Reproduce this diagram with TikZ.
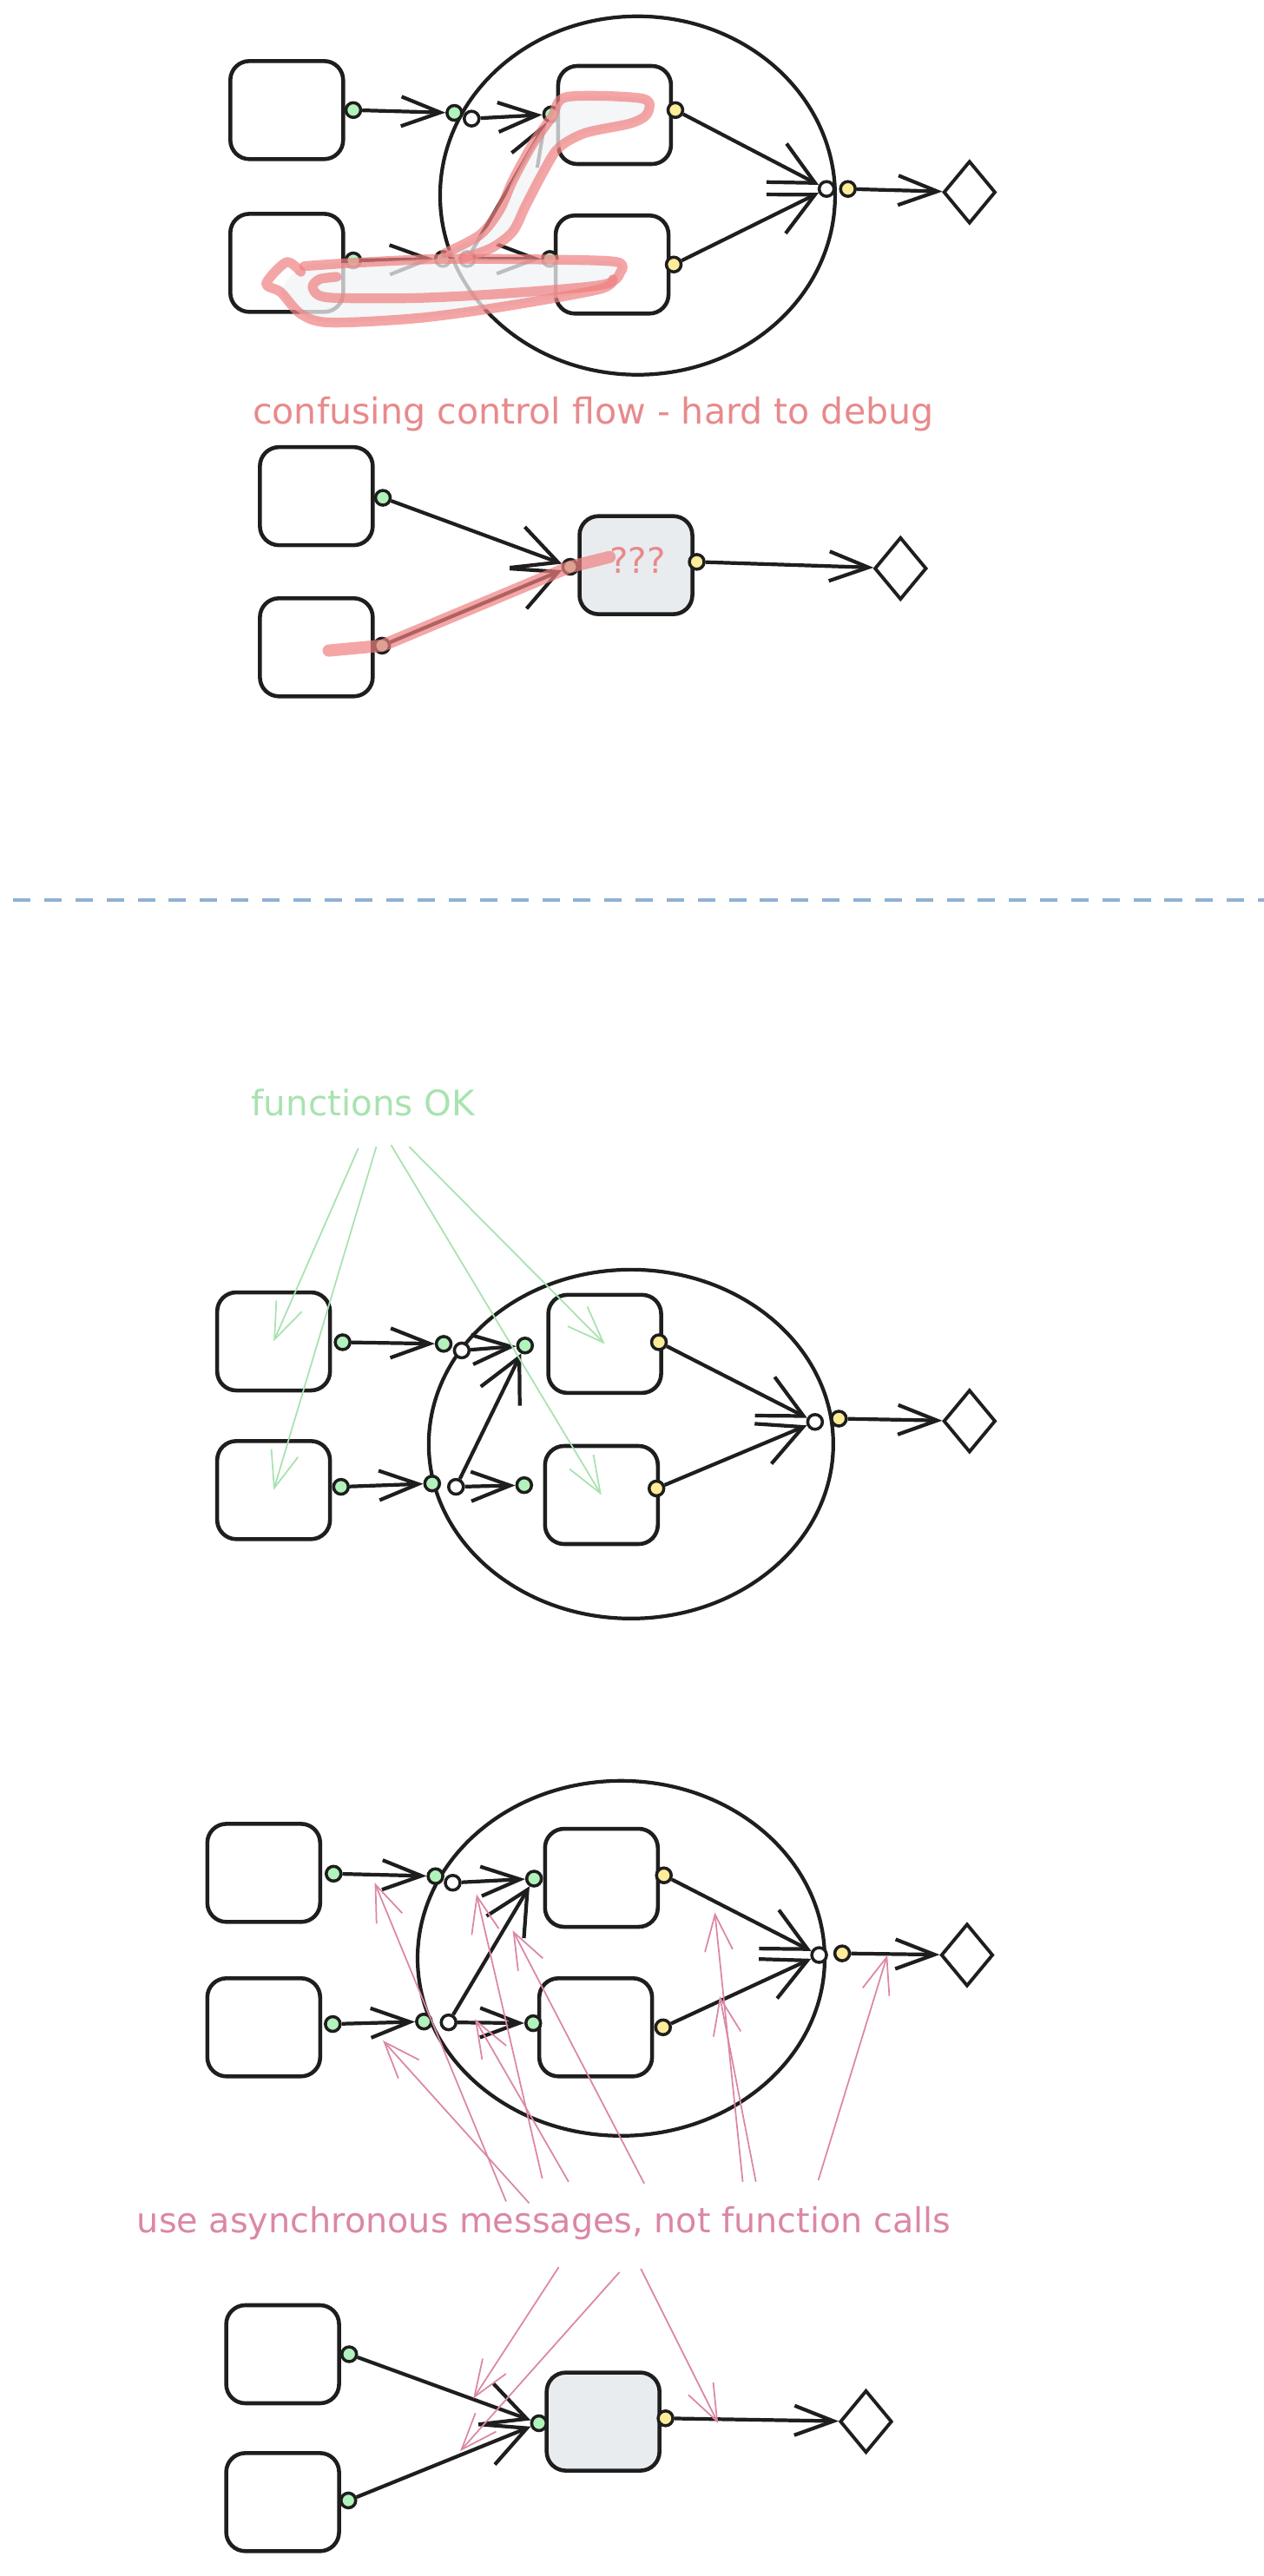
\documentclass[tikz,border=0pt]{standalone}
\usepackage{fontspec}
\setmainfont{DejaVu Sans}
\usetikzlibrary{arrows.meta,positioning,shapes.geometric,calc}
\definecolor{ink}{HTML}{1E1E1E}
\definecolor{gportc}{HTML}{B2F2BB}
\definecolor{yportc}{HTML}{FFEC99}
\definecolor{busyc}{HTML}{E9ECEF}
\definecolor{hlc}{HTML}{EF8080}
\definecolor{hlfill}{HTML}{F1F3F5}
\definecolor{badtxt}{HTML}{E8898B}
\definecolor{asyncc}{HTML}{DB87A7}
\definecolor{okc}{HTML}{A8E2B0}
\definecolor{sepc}{HTML}{8FB1D3}
\tikzset{
  svc/.style={draw=ink, line width=1.3pt, rounded corners=0.22cm, minimum width=1.3cm, minimum height=1.13cm, inner sep=0pt},
  busy/.style={svc, fill=busyc},
  gp/.style={circle, draw=ink, fill=gportc, line width=1pt, inner sep=0pt, minimum size=0.17cm},
  yp/.style={gp, fill=yportc},
  wp/.style={gp, fill=white},
  sink/.style={diamond, draw=ink, line width=1.1pt, inner sep=0pt, minimum width=0.6cm, minimum height=0.72cm},
  ring/.style={ellipse, draw=ink, line width=1.2pt, inner sep=0pt},
  flow/.style={draw=ink, line width=1.2pt, -{Straight Barb[length=0.45cm, width=0.34cm]}},
  merge/.style={flow, -{Straight Barb[length=0.5cm, width=0.5cm]}},
  ptr/.style={line width=0.5pt, -{Straight Barb[length=0.42cm, width=0.32cm]}},
  hl/.style={hlc, line width=3.2pt, opacity=0.7, line cap=round, line join=round},
  shade/.style={hlfill, opacity=0.75},
  say/.style={font=\fontsize{11.5}{13}\selectfont, inner sep=1pt},
}

\begin{document}
\begin{tikzpicture}[x=0.1893mm, y=-0.1893mm]
  \useasboundingbox (0,0) rectangle (769,1568);
  \node[ring, minimum width=4.55cm, minimum height=4.13cm] (ring1) at (388,119) {};
  \node[svc] (a1) at (174.5,67) {};
  \node[svc] (a2) at (174.5,160) {};
  \node[svc] (b1) at (374,70) {};
  \node[svc] (b2) at (372.5,161) {};
  \node[gp] (a1o) at (215,67) {};
  \node[gp] (a2o) at (215,158.5) {};
  \node[gp] (j1) at (276.5,68.7) {};
  \node[wp] (j1w) at (287,72.2) {};
  \node[gp] (j2) at (269.5,157.6) {};
  \node[wp] (j2w) at (284.4,157.6) {};
  \node[gp] (b1i) at (335.4,69.6) {};
  \node[yp] (b1o) at (411,67) {};
  \node[gp] (b2i) at (334.6,157.6) {};
  \node[yp] (b2o) at (410,161) {};
  \node[wp] (m1) at (503,115) {};
  \node[yp] (m1o) at (516,115) {};
  \node[sink] (d1) at (590,117) {};
  \draw[flow] (a1o) -- (j1);
  \draw[flow] (j1w) -- (b1i);
  \draw[flow] (a2o) -- (j2);
  \draw[flow] (j2w) -- (b2i);
  \draw[flow] (j2w) -- (b1i);
  \draw[merge] (b1o) -- (m1);
  \draw[merge] (b2o) -- (m1);
  \draw[flow] (m1o) -- (d1);
  \fill[shade] plot[smooth cycle, tension=0.5] coordinates {(271,154) (292,143) (304,128) (312,110) (324,88) (336,71) (345,59) (391,60) (394,69) (384,75) (356,81) (340,90) (331,104) (320,125) (312,141) (299,151) (282,157)};
  \fill[shade] plot[smooth cycle, tension=0.5] coordinates {(185,162) (215,160) (269,157.6) (335,158) (375,159.4) (377.7,165.5) (364.5,176.1) (306.4,186.6) (253.6,193.7) (200.7,196.3) (183.1,191.1) (170.8,177.8)};
  \draw[hl] plot[smooth, tension=0.5] coordinates {(271,154) (292,143) (304,128) (312,110) (324,88) (336,71) (345,59) (391,60) (394,69) (384,75) (356,81) (340,90) (331,104) (320,125) (312,141) (299,151) (282,157)};
  \draw[hl] plot[smooth, tension=0.5] coordinates {(185,162) (215,160) (269,157.6) (335,158) (375,159.4) (377.7,165.5) (366.3,173.4) (306.4,178.7) (253.6,181.4) (206,181.4) (193.7,179.6) (190.2,174.3) (194.6,169.9) (205,168.5)};
  \draw[hl] plot[smooth, tension=0.5] coordinates {(183.1,165.5) (174.3,159.6) (162,172.6) (170.8,177.8) (183.1,191.1) (200.7,196.3) (253.6,193.7) (306.4,186.6) (364.5,176.1) (373,170)};
  \node[say, text=badtxt, font=\fontsize{11.7}{13}\selectfont] (bad) at (361,252) {confusing control flow - hard to debug};

  \node[svc] (c1) at (192.5,302) {};
  \node[svc] (c2) at (192.5,394) {};
  \node[busy] (k1) at (387,344) {};
  \node[gp] (c1o) at (233,303) {};
  \node[gp] (c2o) at (232.5,393) {};
  \node[gp] (k1i) at (347,345) {};
  \node[yp] (k1o) at (424,342) {};
  \node[sink] (d2) at (548,346) {};
  \node[say, text=badtxt] (qq) at (388,341) {???};
  \draw[merge] (c1o) -- (k1i);
  \draw[merge] (c2o) -- (k1i);
  \draw[flow] (k1o) -- (d2);
  \draw[hl, line width=4pt] (200,396) -- (c2o.center) -- (k1i.center) -- (371,339);

  \draw[sepc, line width=1.1pt, dash pattern=on 5.7pt off 4.5pt] (8,548) -- (769,548);

  \node[say, text=okc] (ok) at (221,671) {functions OK};
  \node[ring, minimum width=4.66cm, minimum height=4.02cm] (ring3) at (384,879) {};
  \node[svc] (e1) at (166.5,816.5) {};
  \node[svc] (e2) at (166.5,907) {};
  \node[svc] (f1) at (368,818) {};
  \node[svc] (f2) at (366,910) {};
  \node[gp] (e1o) at (208.5,817) {};
  \node[gp] (e2o) at (207.5,905) {};
  \node[gp] (j3) at (270,818) {};
  \node[wp] (j3w) at (281,822) {};
  \node[gp] (j4) at (263,903) {};
  \node[wp] (j4w) at (277.5,905) {};
  \node[gp] (f1i) at (319.5,819) {};
  \node[yp] (f1o) at (401,817) {};
  \node[gp] (f2i) at (319,904) {};
  \node[yp] (f2o) at (399.5,906) {};
  \node[wp] (m3) at (496,865.5) {};
  \node[yp] (m3o) at (510.5,863.5) {};
  \node[sink] (d3) at (590,865) {};
  \draw[flow] (e1o) -- (j3);
  \draw[flow] (j3w) -- (f1i);
  \draw[flow] (e2o) -- (j4);
  \draw[flow] (j4w) -- (f2i);
  \draw[merge] (j4w) -- (f1i);
  \draw[merge] (f1o) -- (m3);
  \draw[merge] (f2o) -- (m3);
  \draw[flow] (m3o) -- (d3);
  \coordinate (ok1) at (218,699);
  \coordinate (ok2) at (229,698);
  \coordinate (ok3) at (238,697);
  \coordinate (ok4) at (249,698);
  \draw[ptr, okc] (ok1) -- (e1.center);
  \draw[ptr, okc] (ok2) -- (e2.center);
  \draw[ptr, okc] (ok3) -- (f2.center);
  \draw[ptr, okc] (ok4) -- (f1.center);

  \node[ring, minimum width=4.69cm, minimum height=4.09cm] (ring4) at (378,1192) {};
  \node[svc] (g1) at (160.5,1140) {};
  \node[svc] (g2) at (160.5,1234) {};
  \node[svc] (h1) at (366,1143) {};
  \node[svc] (h2) at (362.5,1234) {};
  \node[gp] (g1o) at (203,1140.5) {};
  \node[gp] (g2o) at (202.5,1232) {};
  \node[gp] (j5) at (265,1142) {};
  \node[wp] (j5w) at (275.5,1146) {};
  \node[gp] (j6) at (258,1230.5) {};
  \node[wp] (j6w) at (273,1231) {};
  \node[gp] (h1i) at (325,1143.5) {};
  \node[yp] (h1o) at (404,1141.5) {};
  \node[gp] (h2i) at (324.5,1231.5) {};
  \node[yp] (h2o) at (403.5,1234) {};
  \node[wp] (m5) at (498.5,1190) {};
  \node[yp] (m5o) at (512.5,1189) {};
  \node[sink] (d5) at (588.5,1190) {};
  \draw[flow] (g1o) -- (j5);
  \draw[flow] (j5w) -- (h1i);
  \draw[flow] (g2o) -- (j6);
  \draw[flow] (j6w) -- (h2i);
  \draw[merge] (j6w) -- (h1i);
  \draw[merge] (h1o) -- (m5);
  \draw[merge] (h2o) -- (m5);
  \draw[flow] (m5o) -- (d5);
  \node[say, text=asyncc, font=\fontsize{11.3}{13}\selectfont] (msg) at (331,1353) {use asynchronous messages, not function calls};
  \coordinate (t1) at (228,1146);
  \coordinate (t2) at (233,1242);
  \coordinate (t3) at (290,1153);
  \coordinate (t4) at (289,1229);
  \coordinate (t5) at (312,1175);
  \coordinate (t6) at (435,1164);
  \coordinate (t7) at (438,1215);
  \coordinate (t8) at (540,1190);
  \draw[ptr, asyncc] (308,1340) -- (t1);
  \draw[ptr, asyncc] (322,1341) -- (t2);
  \draw[ptr, asyncc] (330,1326) -- (t3);
  \draw[ptr, asyncc] (346,1328) -- (t4);
  \draw[ptr, asyncc] (392,1329) -- (t5);
  \draw[ptr, asyncc] (452,1328) -- (t6);
  \draw[ptr, asyncc] (460,1328) -- (t7);
  \draw[ptr, asyncc] (498,1327) -- (t8);

  \node[svc] (n1) at (172,1433) {};
  \node[svc] (n2) at (172,1523) {};
  \node[busy] (k2) at (367,1474) {};
  \node[gp] (n1o) at (212.5,1433) {};
  \node[gp] (n2o) at (212,1522) {};
  \node[gp] (k2i) at (328,1475) {};
  \node[yp] (k2o) at (405,1472) {};
  \node[sink] (d6) at (527,1474) {};
  \draw[merge] (n1o) -- (k2i);
  \draw[merge] (n2o) -- (k2i);
  \draw[flow] (k2o) -- (d6);
  \coordinate (u1) at (288,1460);
  \coordinate (u2) at (280,1492);
  \coordinate (u3) at (437,1475);
  \draw[ptr, asyncc] (340,1380) -- (u1);
  \draw[ptr, asyncc] (377,1383) -- (u2);
  \draw[ptr, asyncc] (390,1381) -- (u3);
\end{tikzpicture}
\end{document}
